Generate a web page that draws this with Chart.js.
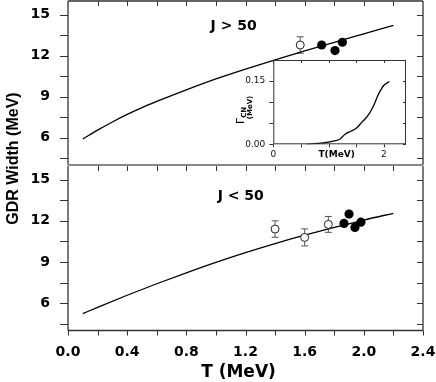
<!DOCTYPE html>
<html>
<head>
<meta charset="utf-8">
<script src="https://cdn.jsdelivr.net/npm/chart.js@4.4.1/dist/chart.umd.min.js"></script>
<style>
  html, body { margin: 0; padding: 0; background: #fff; }
  #wrap { position: relative; width: 436px; height: 382px; }
  canvas { position: absolute; }
</style>
</head>
<body>
<div id="wrap">
  <canvas id="bottom" width="436" height="382" style="left:0;top:0"></canvas>
  <canvas id="top" width="436" height="166" style="left:0;top:0"></canvas>
  <canvas id="inset" width="190" height="115" style="left:230px;top:50px"></canvas>
</div>
<script>
// calculated GDR width vs temperature (solid lines)
const T_FIT_HIGH = [0.1, 0.2, 0.3, 0.4, 0.5, 0.6, 0.8, 1.0, 1.2, 1.4, 1.6, 1.8, 2.0, 2.2];
const WIDTH_FIT_HIGH_J = [5.9, 6.55, 7.15, 7.7, 8.2, 8.65, 9.5, 10.3, 11.02, 11.7, 12.35, 12.98, 13.6, 14.22];
const T_FIT_LOW = [0.1, 0.2, 0.4, 0.6, 0.8, 1.0, 1.2, 1.4, 1.6, 1.8, 2.0, 2.2];
const WIDTH_FIT_LOW_J = [5.23, 5.69, 6.57, 7.41, 8.21, 8.97, 9.68, 10.34, 10.95, 11.52, 12.06, 12.55];

// J > 50 data
const T_HIGH_OPEN = [1.57];
const W_HIGH_OPEN = [12.78];
const ERR_HIGH_OPEN = [0.6];
const T_HIGH_FILLED = [1.715, 1.805, 1.855];
const W_HIGH_FILLED = [12.78, 12.37, 12.98];

// J < 50 data
const T_LOW_OPEN = [1.40, 1.60, 1.76];
const W_LOW_OPEN = [11.40, 10.79, 11.74];
const ERR_LOW_OPEN = [0.6, 0.62, 0.58];
const T_LOW_FILLED = [1.866, 1.90, 1.94, 1.98];
const W_LOW_FILLED = [11.81, 12.49, 11.52, 11.90];

// inset: compound nucleus width
const T_CN = [0.6, 0.8, 1.0, 1.1, 1.2, 1.3, 1.4, 1.5, 1.6, 1.7, 1.8, 1.9, 2.0, 2.1];
const GAMMA_CN = [0, 0.002, 0.005, 0.008, 0.012, 0.024, 0.031, 0.038, 0.052, 0.066, 0.088, 0.118, 0.140, 0.149];

// tick labels / tick marks
const X_TICKS = [0, 0.4, 0.8, 1.2, 1.6, 2.0, 2.4];
const X_MINOR = [0, 0.2, 0.4, 0.6, 0.8, 1.0, 1.2, 1.4, 1.6, 1.8, 2.0, 2.2, 2.4];
const Y_TICKS = [6, 9, 12, 15];
const Y_MINOR = [4.5, 6, 7.5, 9, 10.5, 12, 13.5, 15];
const INSET_X_TICKS = [0, 2];
const INSET_X_MINOR = [0, 0.5, 1, 1.5, 2];
const INSET_Y_TICKS = [0, 0.15];
const INSET_Y_MINOR = [0, 0.05, 0.1, 0.15];

Chart.defaults.font.family = 'DejaVu Sans';
Chart.defaults.color = '#000';

const FRAME = '#333';

function pts(xs, ys) { return xs.map((x, i) => ({x: x, y: ys[i]})); }

function fitLine(data) {
  return { type: 'line', data: data, borderColor: '#000', borderWidth: 1.3,
           pointRadius: 0, cubicInterpolationMode: 'monotone', order: 3 };
}
function openPts(data, err) {
  return { type: 'scatter', data: data, errors: err, pointRadius: 4,
           pointBackgroundColor: '#fff', pointBorderColor: '#222', pointBorderWidth: 1, order: 1 };
}
function filledPts(data) {
  return { type: 'scatter', data: data, pointRadius: 4.6,
           pointBackgroundColor: '#000', pointBorderColor: '#000', pointBorderWidth: 0, order: 2 };
}

// error bars for open symbols
const errorBars = {
  id: 'errorBars',
  beforeDatasetsDraw(chart) {
    const {ctx, scales: {x, y}} = chart;
    ctx.save();
    ctx.strokeStyle = '#555';
    ctx.lineWidth = 1;
    chart.data.datasets.forEach(ds => {
      if (!ds.errors) return;
      ds.data.forEach((p, i) => {
        const px = x.getPixelForValue(p.x);
        const y1 = y.getPixelForValue(p.y + ds.errors[i]);
        const y2 = y.getPixelForValue(p.y - ds.errors[i]);
        ctx.beginPath();
        ctx.moveTo(px, y1); ctx.lineTo(px, y2);
        ctx.moveTo(px - 3.5, y1); ctx.lineTo(px + 3.5, y1);
        ctx.moveTo(px - 3.5, y2); ctx.lineTo(px + 3.5, y2);
        ctx.stroke();
      });
    });
    ctx.restore();
  }
};

// frame + tick marks for a main panel
function panelFrame(isTop) {
  return {
    id: 'panelFrame',
    afterDraw(chart) {
      const {ctx, chartArea: a, scales: {x, y}} = chart;
      ctx.save();
      ctx.strokeStyle = FRAME;
      ctx.lineWidth = 1.3;
      ctx.beginPath();
      ctx.moveTo(a.left, a.bottom); ctx.lineTo(a.left, a.top);
      ctx.moveTo(a.right, a.top); ctx.lineTo(a.right, a.bottom);
      if (isTop) { ctx.moveTo(a.left, a.top); ctx.lineTo(a.right, a.top); }
      else { ctx.moveTo(a.left, a.bottom); ctx.lineTo(a.right, a.bottom); }
      ctx.stroke();
      ctx.lineWidth = 1;
      ctx.beginPath();
      Y_MINOR.forEach(v => {
        const py = Math.round(y.getPixelForValue(v)) + 0.5;
        ctx.moveTo(a.left - 8, py); ctx.lineTo(a.left, py);
        ctx.moveTo(a.right - 6, py); ctx.lineTo(a.right, py);
      });
      X_MINOR.forEach(v => {
        const px = Math.round(x.getPixelForValue(v)) + 0.5;
        if (v > 0 && v < 2.4) { ctx.moveTo(px, a.top); ctx.lineTo(px, a.top + 5); }
        if (!isTop) { ctx.moveTo(px, a.bottom); ctx.lineTo(px, a.bottom + 5); }
      });
      ctx.stroke();
      if (isTop) {
        ctx.strokeStyle = '#888';
        ctx.lineWidth = 2;
        ctx.beginPath();
        ctx.moveTo(a.left, a.bottom); ctx.lineTo(a.right, a.bottom);
        ctx.stroke();
      }
      ctx.restore();
    }
  };
}

// in-plot text labels (J > 50 etc.) and axis titles
function panelText(label, lx, ly, titles) {
  return {
    id: 'panelText',
    afterDraw(chart) {
      const {ctx, chartArea: a, scales: {x, y}} = chart;
      ctx.save();
      ctx.fillStyle = '#000';
      ctx.font = 'bold 14px "DejaVu Sans"';
      ctx.textAlign = 'center';
      ctx.textBaseline = 'middle';
      ctx.fillText(label, x.getPixelForValue(lx), y.getPixelForValue(ly));
      if (titles) {
        ctx.font = 'bold 17px "DejaVu Sans"';
        ctx.textBaseline = 'alphabetic';
        ctx.fillText('T (MeV)', (a.left + a.right) / 2 - 7, 376.5);
        ctx.translate(17.5, 158.5);
        ctx.rotate(-Math.PI / 2);
        ctx.font = 'bold 16px "Liberation Sans"';
        ctx.fillText('GDR Width (MeV)', 0, 0);
      }
      ctx.restore();
    }
  };
}

const tickFont = {family: 'DejaVu Sans', size: 14, weight: 'bold'};

// drop the label overhang padding Chart.js adds, keep the fixed plot box
function fixY(width) {
  return s => { s.width = width; s.paddingTop = 0; s.paddingBottom = 0; };
}
function fixX(height) {
  return s => { s.height = height; s.paddingLeft = 0; s.paddingRight = 0; };
}

function yScale() {
  return {
    type: 'linear', min: 4, max: 16,
    afterBuildTicks: s => { s.ticks = Y_TICKS.map(v => ({value: v})); },
    afterFit: fixY(68),
    ticks: { font: tickFont, padding: 18, color: '#000' },
    grid: { display: false, drawTicks: false },
    border: { display: false }
  };
}

// upper panel: J > 50
new Chart(document.getElementById('top'), {
  type: 'line',
  data: {
    datasets: [
      fitLine(pts(T_FIT_HIGH, WIDTH_FIT_HIGH_J)),
      openPts(pts(T_HIGH_OPEN, W_HIGH_OPEN), ERR_HIGH_OPEN),
      filledPts(pts(T_HIGH_FILLED, W_HIGH_FILLED))
    ]
  },
  options: {
    responsive: false, animation: false, devicePixelRatio: 1,
    layout: { autoPadding: false, padding: { left: 0, right: 13, top: 1, bottom: 1 } },
    plugins: { legend: { display: false }, tooltip: { enabled: false } },
    scales: {
      x: { type: 'linear', min: 0, max: 2.4, display: false },
      y: yScale()
    }
  },
  plugins: [errorBars, panelFrame(true), panelText('J > 50', 1.12, 14.17, false)]
});

// lower panel: J < 50, owns the x axis
new Chart(document.getElementById('bottom'), {
  type: 'line',
  data: {
    datasets: [
      fitLine(pts(T_FIT_LOW, WIDTH_FIT_LOW_J)),
      openPts(pts(T_LOW_OPEN, W_LOW_OPEN), ERR_LOW_OPEN),
      filledPts(pts(T_LOW_FILLED, W_LOW_FILLED))
    ]
  },
  options: {
    responsive: false, animation: false, devicePixelRatio: 1,
    layout: { autoPadding: false, padding: { left: 0, right: 13, top: 166, bottom: 0 } },
    plugins: { legend: { display: false }, tooltip: { enabled: false } },
    scales: {
      x: {
        type: 'linear', min: 0, max: 2.4,
        afterBuildTicks: s => { s.ticks = X_TICKS.map(v => ({value: v})); },
        afterFit: fixX(51.5),
        ticks: { font: tickFont, padding: 13, color: '#000', maxRotation: 0,
                 callback: v => v.toFixed(1) },
        grid: { display: false, drawTicks: false },
        border: { display: false }
      },
      y: yScale()
    }
  },
  plugins: [errorBars, panelFrame(false), panelText('J < 50', 1.168, 13.81, true)]
});

// inset: Gamma_CN vs T
const insetDeco = {
  id: 'insetDeco',
  beforeDraw(chart) {
    const {ctx, chartArea: a} = chart;
    ctx.save();
    ctx.fillStyle = '#fff';
    ctx.fillRect(a.left, a.top, a.right - a.left, a.bottom - a.top);
    ctx.restore();
  },
  afterDraw(chart) {
    const {ctx, chartArea: a, scales: {x, y}} = chart;
    ctx.save();
    ctx.strokeStyle = FRAME;
    ctx.lineWidth = 1;
    ctx.strokeRect(a.left + 0.5, a.top + 0.5, a.right - a.left - 1, a.bottom - a.top - 1);
    ctx.beginPath();
    INSET_X_MINOR.forEach(v => {
      const px = Math.round(x.getPixelForValue(v)) + 0.5;
      ctx.moveTo(px, a.bottom); ctx.lineTo(px, a.bottom + 3);
      ctx.moveTo(px, a.top); ctx.lineTo(px, a.top + 3);
    });
    INSET_Y_MINOR.forEach(v => {
      const py = Math.round(y.getPixelForValue(v)) + 0.5;
      ctx.moveTo(a.left - 4, py); ctx.lineTo(a.left, py);
      ctx.moveTo(a.right - 3, py); ctx.lineTo(a.right, py);
    });
    ctx.stroke();
    ctx.fillStyle = '#000';
    ctx.textAlign = 'center';
    ctx.textBaseline = 'middle';
    ctx.font = 'bold 9px "DejaVu Sans"';
    ctx.fillText('T(MeV)', (a.left + a.right) / 2 - 3, 105);
    // rotated y title: Gamma_CN (MeV)
    ctx.save();
    ctx.translate(13.5, 74);
    ctx.rotate(-Math.PI / 2);
    ctx.textAlign = 'left';
    ctx.textBaseline = 'alphabetic';
    ctx.font = '11px "DejaVu Sans"';
    ctx.fillText('Γ', 0, 0);
    const w = ctx.measureText('Γ').width;
    ctx.font = 'bold 7px "DejaVu Sans"';
    ctx.fillText('CN', w, 2);
    ctx.restore();
    ctx.translate(21.5, 57.5);
    ctx.rotate(-Math.PI / 2);
    ctx.textAlign = 'center';
    ctx.textBaseline = 'alphabetic';
    ctx.font = 'bold 7px "DejaVu Sans"';
    ctx.fillText('(MeV)', 0, 0);
    ctx.restore();
  }
};

new Chart(document.getElementById('inset'), {
  type: 'line',
  data: {
    datasets: [{
      data: pts(T_CN, GAMMA_CN), borderColor: '#000', borderWidth: 1.3,
      pointRadius: 0, cubicInterpolationMode: 'monotone'
    }]
  },
  options: {
    responsive: false, animation: false, devicePixelRatio: 1,
    layout: { autoPadding: false, padding: { left: 0, right: 14, top: 10, bottom: 0 } },
    plugins: { legend: { display: false }, tooltip: { enabled: false } },
    scales: {
      x: {
        type: 'linear', min: 0, max: 2.4,
        afterBuildTicks: s => { s.ticks = INSET_X_TICKS.map(v => ({value: v})); },
        afterFit: fixX(20.7),
        ticks: { font: {size: 9}, padding: 5, color: '#111', maxRotation: 0,
                 callback: v => String(v) },
        grid: { display: false, drawTicks: false },
        border: { display: false }
      },
      y: {
        type: 'linear', min: 0, max: 0.2,
        afterBuildTicks: s => { s.ticks = INSET_Y_TICKS.map(v => ({value: v})); },
        afterFit: fixY(43.3),
        ticks: { font: {size: 9}, padding: 8, color: '#111', callback: v => v.toFixed(2) },
        grid: { display: false, drawTicks: false },
        border: { display: false }
      }
    }
  },
  plugins: [insetDeco]
});
</script>
</body>
</html>
